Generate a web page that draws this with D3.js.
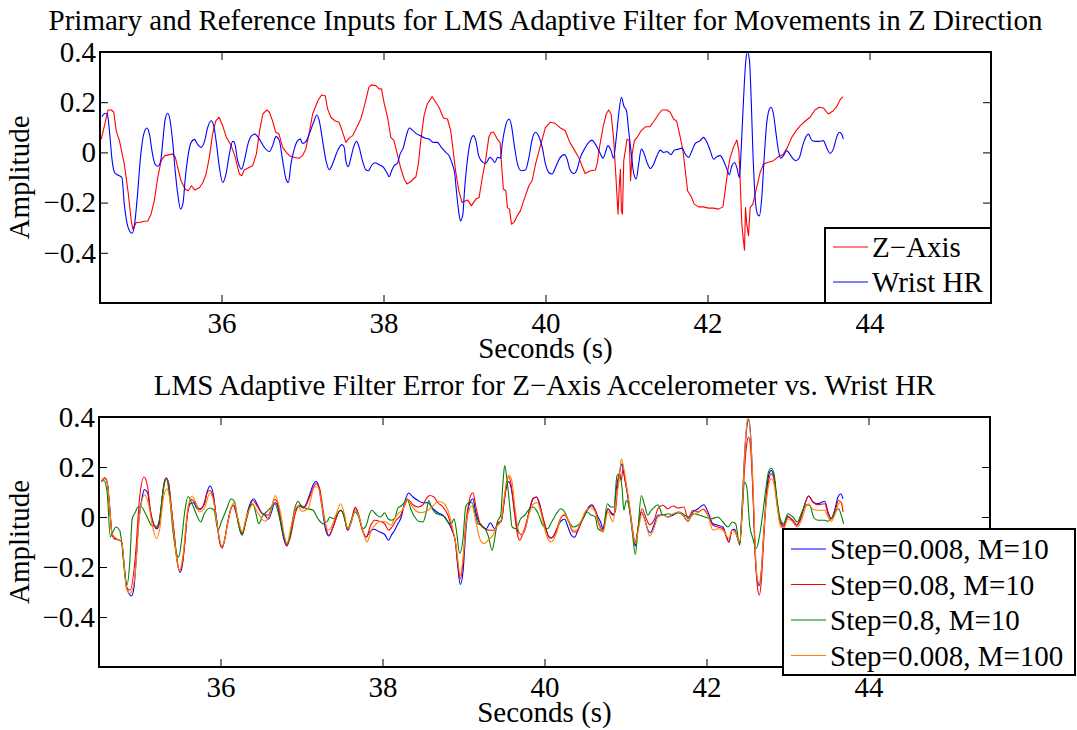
<!DOCTYPE html>
<html>
<head>
<meta charset="utf-8">
<script src="https://cdn.jsdelivr.net/npm/d3@7"></script>
<style>
  body { margin: 0; background: #fff; }
  text { font-family: "Liberation Serif", "Times New Roman", serif; fill: #000; }
</style>
</head>
<body>
<div id="chart"></div>
<script>
// ---- data: [seconds, amplitude] ----
var zAxis = [[34.516,0.053],[34.60,0.169],[34.64,0.169],[34.67,0.16],[34.70,0.086],[34.74,0.047],[34.80,-0.047],[34.845,-0.153],[34.886,-0.273],[34.906,-0.306],[34.947,-0.279],[34.99,-0.279],[35.03,-0.275],[35.09,-0.273],[35.13,-0.246],[35.17,-0.193],[35.21,-0.106],[35.255,-0.033],[35.30,-0.013],[35.36,-0.009],[35.40,-0.007],[35.43,-0.02],[35.46,-0.06],[35.50,-0.113],[35.55,-0.146],[35.59,-0.153],[35.63,-0.133],[35.67,-0.15],[35.73,-0.14],[35.77,-0.12],[35.81,-0.086],[35.85,-0.02],[35.89,0.073],[35.93,0.126],[35.97,0.14],[36.015,0.106],[36.06,0.06],[36.12,0.027],[36.17,-0.02],[36.22,-0.086],[36.25,-0.093],[36.28,-0.07],[36.34,-0.06],[36.385,-0.053],[36.43,-0.007],[36.47,0.086],[36.51,0.153],[36.56,0.169],[36.59,0.16],[36.63,0.126],[36.67,0.08],[36.71,0.073],[36.755,0.02],[36.80,0],[36.84,-0.013],[36.90,-0.02],[36.96,-0.023],[37.00,-0.013],[37.04,0.013],[37.08,0.073],[37.125,0.153],[37.19,0.206],[37.235,0.229],[37.28,0.226],[37.31,0.173],[37.35,0.14],[37.40,0.126],[37.45,0.12],[37.49,0.086],[37.535,0.04],[37.575,0.057],
  [37.62,0.067],[37.66,0.093],[37.72,0.133],[37.76,0.18],[37.82,0.26],[37.85,0.269],[37.905,0.266],[37.946,0.253],[37.975,0.253],[38.01,0.193],[38.05,0.14],[38.09,0.06],[38.13,0.047],[38.165,0],[38.21,-0.06],[38.255,-0.106],[38.29,-0.126],[38.336,-0.116],[38.40,-0.097],[38.43,-0.047],[38.46,0.047],[38.50,0.146],[38.54,0.193],[38.60,0.222],[38.645,0.2],[38.685,0.18],[38.74,0.137],[38.79,0.133],[38.83,0.086],[38.86,0.007],[38.89,-0.073],[38.93,-0.153],[38.97,-0.2],[39.015,-0.193],[39.04,-0.19],[39.085,-0.213],[39.14,-0.186],[39.18,-0.18],[39.22,-0.1],[39.26,-0.033],[39.30,0.06],[39.33,0.08],[39.36,0.08],[39.405,0.053],[39.44,0.04],[39.46,-0.06],[39.48,-0.146],[39.51,-0.153],[39.53,-0.22],[39.556,-0.226],[39.58,-0.286],[39.61,-0.279],[39.65,-0.253],[39.69,-0.233],[39.73,-0.193],[39.795,-0.133],[39.835,-0.113],[39.877,-0.047],[39.92,0.007],[39.96,0.053],[40.00,0.1],[40.06,0.12],[40.12,0.116],[40.185,0.097],[40.245,0.086],[40.30,0.04],[40.35,0.013],[40.41,-0.02],[40.45,-0.053],[40.49,-0.084],[40.555,-0.073],[40.616,-0.07],
  [40.637,-0.047],[40.67,0.027],[40.71,0.1],[40.75,0.153],[40.78,0.169],[40.81,0.153],[40.84,0.06],[40.87,-0.1],[40.895,-0.246],[40.912,-0.126],[40.925,-0.067],[40.937,-0.233],[40.95,-0.246],[40.966,-0.033],[41.007,0.053],[41.035,0.047],[41.05,-0.113],[41.07,-0.007],[41.097,0.047],[41.138,0.063],[41.18,0.086],[41.233,0.102],[41.286,0.102],[41.344,0.126],[41.397,0.153],[41.438,0.169],[41.50,0.169],[41.54,0.16],[41.582,0.133],[41.62,0.124],[41.664,0.06],[41.697,0.007],[41.726,-0.073],[41.754,-0.153],[41.795,-0.173],[41.836,-0.206],[41.89,-0.217],[41.95,-0.217],[42.013,-0.222],[42.075,-0.222],[42.136,-0.226],[42.19,-0.217],[42.218,-0.153],[42.247,-0.08],[42.28,-0.02],[42.32,0.02],[42.362,0.049],[42.387,0.007],[42.40,-0.086],[42.424,-0.286],[42.444,-0.353],[42.457,-0.39],[42.469,-0.22],[42.485,-0.286],[42.506,-0.333],[42.527,-0.22],[42.56,-0.206],[42.588,-0.166],[42.617,-0.126],[42.65,-0.08],[42.69,-0.047],[42.74,-0.04],[42.814,-0.033],[42.876,-0.017],[42.937,-0.007],[42.987,0.02],[43.04,0.06],[43.093,0.086],[43.143,0.106],[43.204,0.124],[43.266,0.14],[43.327,0.169],[43.38,0.18],[43.43,0.177],[43.492,0.153],[43.553,0.166],[43.594,0.182],[43.636,0.209],[43.67,0.222]];

var wristHR = [[34.524,0.142],[34.565,0.156],[34.59,0.153],[34.62,0.073],[34.65,-0.033],[34.68,-0.08],[34.72,-0.09],[34.77,-0.1],[34.80,-0.206],[34.836,-0.286],[34.865,-0.313],[34.898,-0.322],[34.927,-0.286],[34.96,-0.18],[35.00,-0.02],[35.04,0.073],[35.08,0.097],[35.11,0.073],[35.145,0],[35.18,-0.047],[35.215,-0.055],[35.25,-0.033],[35.276,0.047],[35.305,0.133],[35.337,0.156],[35.366,0.126],[35.40,0.033],[35.428,-0.073],[35.46,-0.166],[35.494,-0.226],[35.526,-0.2],[35.55,-0.113],[35.584,-0.02],[35.625,0.04],[35.666,0.052],[35.707,0.031],[35.748,0.02],[35.79,0.044],[35.83,0.1],[35.871,0.126],[35.904,0.106],[35.933,0.047],[35.974,-0.06],[36.015,-0.12],[36.056,-0.086],[36.097,-0.007],[36.138,0.044],[36.159,0.04],[36.20,-0.033],[36.25,-0.067],[36.282,-0.033],[36.332,0.04],[36.373,0.067],[36.414,0.073],[36.467,0.053],[36.529,0.02],[36.59,0.003],[36.631,0.027],[36.672,0.063],[36.714,0.047],[36.755,-0.033],[36.796,-0.106],[36.825,-0.12],[36.857,-0.047],[36.898,0.013],[36.94,0.047],[36.972,0.053],[37.00,0.036],[37.042,0.043],[37.083,0.073],[37.137,0.12],[37.178,0.149],[37.207,0.126],[37.248,0.047],[37.29,-0.033],[37.33,-0.069],[37.37,-0.047],[37.424,0],[37.486,0.031],[37.515,0.02],[37.535,-0.033],[37.564,-0.057],
  [37.589,-0.033],[37.63,0.02],[37.667,0.044],[37.70,0.02],[37.74,-0.033],[37.782,-0.069],[37.815,-0.073],[37.85,-0.053],[37.893,-0.041],[37.946,-0.049],[38.0,-0.06],[38.04,-0.08],[38.07,-0.097],[38.10,-0.073],[38.13,-0.053],[38.17,-0.044],[38.205,-0.007],[38.246,0.02],[38.287,0.073],[38.32,0.097],[38.357,0.089],[38.40,0.076],[38.45,0.067],[38.51,0.057],[38.56,0.053],[38.616,0.04],[38.665,0.04],[38.714,0.02],[38.77,0],[38.81,-0.013],[38.85,-0.047],[38.88,-0.086],[38.90,-0.153],[38.93,-0.24],[38.95,-0.273],[38.98,-0.246],[39.0,-0.153],[39.035,-0.033],[39.07,0.04],[39.11,0.067],[39.14,0.047],[39.175,-0.013],[39.207,-0.033],[39.26,-0.044],[39.314,-0.02],[39.343,-0.027],[39.375,-0.04],[39.41,-0.02],[39.445,-0.023],[39.466,0.033],[39.507,0.106],[39.55,0.133],[39.58,0.106],[39.618,0.02],[39.66,-0.053],[39.70,-0.073],[39.753,-0.07],[39.795,-0.02],[39.836,0.053],[39.877,0.08],[39.918,0.063],[39.96,0.02],[40.0,-0.047],[40.04,-0.08],[40.082,-0.086],[40.123,-0.06],[40.177,-0.023],[40.234,-0.009],[40.267,-0.027],[40.30,-0.067],[40.35,-0.084],[40.39,-0.067],[40.43,-0.02],[40.48,0.013],[40.534,0.04],[40.575,0.049],[40.616,0.033],
  [40.67,0],[40.71,-0.023],[40.74,0],[40.77,0.027],[40.81,0.007],[40.84,-0.023],[40.87,0.047],[40.904,0.153],[40.937,0.22],[40.966,0.186],[41.0,0.166],[41.027,0.086],[41.06,-0.007],[41.09,-0.086],[41.12,-0.106],[41.15,-0.047],[41.183,0.013],[41.212,0],[41.253,-0.04],[41.294,-0.064],[41.335,-0.047],[41.376,-0.013],[41.417,0.009],[41.458,0],[41.50,0.003],[41.55,-0.009],[41.59,0.009],[41.64,0.013],[41.684,0.017],[41.726,-0.007],[41.767,-0.02],[41.808,0.007],[41.85,0.036],[41.91,0.047],[41.95,0.06],[41.993,0.04],[42.034,0.007],[42.075,-0.027],[42.116,-0.017],[42.157,-0.013],[42.198,-0.033],[42.24,-0.067],[42.27,-0.089],[42.30,-0.053],[42.333,-0.04],[42.362,-0.06],[42.395,-0.1],[42.415,0.007],[42.444,0.206],[42.473,0.366],[42.494,0.40],[42.518,0.366],[42.54,0.206],[42.56,0.007],[42.588,-0.18],[42.617,-0.246],[42.64,-0.253],[42.67,-0.18],[42.70,-0.02],[42.73,0.113],[42.765,0.173],[42.785,0.18],[42.814,0.153],[42.847,0.073],[42.876,0.007],[42.904,-0.023],[42.937,-0.013],[42.978,0.007],[43.02,-0.009],[43.06,-0.027],[43.093,-0.033],[43.135,-0.02],[43.175,0.027],[43.217,0.063],[43.245,0.073],[43.286,0.049],[43.327,0.044],[43.38,0.044],[43.43,0.047],[43.47,0.02],[43.512,-0.004],[43.553,0.013],[43.594,0.06],[43.627,0.08],[43.656,0.073],[43.677,0.053]];

// LMS error, step 0.008, M=10
var errStep0008 = [[34.53,0.142],[34.57,0.156],[34.60,0.14],[34.63,0.047],[34.66,-0.066],[34.69,-0.086],[34.73,-0.09],[34.78,-0.1],[34.81,-0.193],[34.84,-0.279],[34.87,-0.306],[34.90,-0.316],[34.93,-0.286],[34.96,-0.166],[34.99,-0.02],[35.03,0.073],[35.06,0.11],[35.10,0.097],[35.13,0.033],[35.17,-0.023],[35.21,-0.047],[35.24,-0.033],[35.27,0.047],[35.30,0.129],[35.33,0.156],[35.36,0.133],[35.39,0.047],[35.43,-0.073],[35.46,-0.166],[35.50,-0.222],[35.525,-0.2],[35.56,-0.1],[35.59,0.007],[35.63,0.053],[35.67,0.057],[35.71,0.033],[35.76,0.031],[35.80,0.057],[35.84,0.106],[35.87,0.124],[35.91,0.093],[35.95,-0.007],[35.99,-0.1],[36.02,-0.124],[36.05,-0.093],[36.09,-0.02],[36.13,0.036],[36.16,0.047],[36.20,0.007],[36.24,-0.053],[36.27,-0.07],[36.30,-0.033],[36.34,0.027],[36.38,0.063],[36.41,0.073],[36.455,0.049],[36.50,0.02],[36.55,0.007],[36.59,-0.009],[36.63,0.02],[36.67,0.057],[36.70,0.049],[36.74,-0.02],[36.78,-0.086],[36.82,-0.116],[36.85,-0.086],[36.895,-0.007],[36.94,0.036],[36.98,0.044],[37.02,0.036],[37.06,0.053],[37.10,0.089],[37.14,0.126],[37.18,0.142],[37.21,0.126],[37.25,0.047],[37.295,-0.047],[37.34,-0.076],[37.38,-0.049],[37.43,0],[37.48,0.027],[37.525,0.007],[37.57,-0.053],
  [37.615,-0.02],[37.665,0.036],[37.706,0.007],[37.747,-0.047],[37.80,-0.08],[37.84,-0.06],[37.895,-0.049],[37.965,-0.06],[38.027,-0.07],[38.076,-0.093],[38.109,-0.073],[38.15,-0.053],[38.19,-0.027],[38.232,0],[38.274,0.06],[38.323,0.096],[38.376,0.08],[38.438,0.066],[38.50,0.057],[38.56,0.057],[38.623,0.033],[38.685,0.017],[38.747,0.007],[38.808,-0.02],[38.858,-0.053],[38.90,-0.1],[38.932,-0.206],[38.96,-0.27],[38.994,-0.219],[39.022,-0.086],[39.055,0.027],[39.088,0.063],[39.117,0.073],[39.15,0.02],[39.191,-0.02],[39.24,-0.04],[39.282,-0.047],[39.331,-0.023],[39.385,-0.047],[39.426,-0.023],[39.467,-0.017],[39.50,0.06],[39.533,0.124],[39.558,0.142],[39.59,0.113],[39.632,0.02],[39.673,-0.06],[39.714,-0.07],[39.763,-0.047],[39.817,0.033],[39.858,0.073],[39.90,0.08],[39.94,0.053],[39.98,-0.007],[40.022,-0.053],[40.063,-0.084],[40.105,-0.08],[40.146,-0.053],[40.20,-0.017],[40.249,-0.009],[40.29,-0.04],[40.331,-0.073],[40.372,-0.081],[40.413,-0.053],[40.455,-0.02],[40.504,0.013],[40.545,0.04],[40.586,0.049],[40.627,0.027],
  [40.66,0],[40.693,-0.02],[40.722,-0.047],[40.75,-0.007],[40.783,0.033],[40.825,0.013],[40.857,0.007],[40.886,0.113],[40.919,0.166],[40.956,0.213],[40.98,0.173],[41.01,0.12],[41.04,0.053],[41.07,-0.02],[41.10,-0.086],[41.12,-0.116],[41.154,-0.047],[41.195,0.02],[41.236,-0.007],[41.277,-0.053],[41.31,-0.062],[41.35,-0.033],[41.40,0.007],[41.462,0.009],[41.524,0],[41.586,0.007],[41.648,0.017],[41.71,0.007],[41.77,-0.017],[41.833,0.02],[41.895,0.033],[41.968,0.049],[42.018,0.02],[42.08,-0.027],[42.14,-0.033],[42.203,-0.04],[42.244,-0.076],[42.277,-0.1],[42.314,-0.053],[42.347,-0.049],[42.38,-0.08],[42.41,-0.106],[42.438,0.033],[42.47,0.246],[42.50,0.366],[42.52,0.39],[42.545,0.326],[42.573,0.113],[42.602,-0.153],[42.627,-0.253],[42.652,-0.275],[42.676,-0.219],[42.705,-0.073],[42.738,0.086],[42.767,0.166],[42.80,0.186],[42.833,0.16],[42.87,0.06],[42.91,-0.02],[42.952,-0.033],[43.005,0.004],[43.055,-0.013],[43.109,-0.033],[43.162,-0.007],[43.21,0.047],[43.26,0.084],[43.314,0.06],[43.37,0.053],[43.41,0.057],[43.46,0.063],[43.50,0.02],[43.54,-0.007],[43.582,0.027],[43.623,0.08],[43.656,0.093],[43.685,0.073]];

// step 0.08, M=10
var errStep008 = [[34.53,0.142],[34.57,0.156],[34.60,0.14],[34.63,0.047],[34.66,-0.066],[34.69,-0.086],[34.73,-0.09],[34.78,-0.1],[34.81,-0.193],[34.84,-0.28],[34.883,-0.293],[34.95,-0.153],[35.0,0.073],[35.056,0.16],[35.10,0.12],[35.138,0.02],[35.18,-0.033],[35.22,-0.044],[35.27,0.047],[35.30,0.129],[35.33,0.156],[35.36,0.133],[35.39,0.047],[35.43,-0.073],[35.46,-0.16],[35.49,-0.213],[35.525,-0.193],[35.56,-0.1],[35.59,0.007],[35.64,0.07],[35.68,0.06],[35.74,0.033],[35.80,0.05],[35.84,0.1],[35.87,0.106],[35.91,0.08],[35.95,-0.007],[36.01,-0.12],[36.05,-0.093],[36.09,-0.02],[36.155,0.047],[36.20,0.01],[36.27,-0.066],[36.32,-0.01],[36.40,0.066],[36.46,0.04],[36.52,0.013],[36.59,0.007],[36.67,0.07],[36.71,0.05],[36.75,-0.02],[36.82,-0.113],[36.87,-0.07],[36.92,0.01],[36.98,0.047],[37.04,0.04],[37.10,0.08],[37.18,0.133],[37.225,0.113],[37.266,0.03],[37.336,-0.073],[37.39,-0.04],[37.48,0.027],[37.53,0],[37.566,-0.053],
  [37.615,-0.013],[37.665,0.04],[37.706,0.007],[37.747,-0.047],[37.80,-0.08],[37.854,-0.033],[37.903,-0.013],[37.965,-0.017],[38.027,-0.027],[38.076,-0.053],[38.117,-0.04],[38.17,-0.013],[38.224,0.007],[38.274,0.047],[38.315,0.07],[38.376,0.049],[38.438,0.04],[38.50,0.049],[38.541,0.073],[38.582,0.086],[38.636,0.08],[38.685,0.057],[38.747,0.04],[38.808,0.007],[38.858,-0.047],[38.90,-0.1],[38.932,-0.193],[38.96,-0.246],[38.994,-0.18],[39.022,-0.047],[39.064,0.053],[39.088,0.086],[39.117,0.097],[39.15,0.047],[39.20,-0.023],[39.261,-0.047],[39.323,-0.053],[39.385,-0.053],[39.426,-0.027],[39.467,-0.013],[39.50,0.053],[39.533,0.14],[39.558,0.16],[39.59,0.126],[39.632,0.007],[39.673,-0.08],[39.694,-0.093],[39.747,-0.053],[39.817,0.027],[39.858,0.073],[39.90,0.08],[39.94,0.047],[40.002,-0.027],[40.043,-0.073],[40.085,-0.084],[40.146,-0.053],[40.208,0],[40.249,0.007],[40.30,-0.02],[40.352,-0.06],[40.393,-0.06],[40.455,-0.02],[40.516,0.02],[40.578,0.044],[40.627,0.027],
  [40.66,-0.013],[40.722,-0.053],[40.783,0.033],[40.845,0.013],[40.874,0.02],[40.907,0.14],[40.927,0.173],[40.948,0.146],[40.969,0.193],[40.997,0.14],[41.03,0.086],[41.07,-0.007],[41.12,-0.1],[41.162,-0.033],[41.203,0.033],[41.257,-0.007],[41.298,-0.031],[41.36,-0.007],[41.40,0.033],[41.462,0.047],[41.524,0.033],[41.586,0.044],[41.648,0.036],[41.722,0.04],[41.77,-0.007],[41.833,0.027],[41.895,0.02],[41.956,0.031],[42.018,0.007],[42.08,-0.033],[42.14,-0.04],[42.203,-0.047],[42.277,-0.1],[42.314,-0.053],[42.355,-0.06],[42.41,-0.106],[42.438,0.007],[42.47,0.193],[42.50,0.299],[42.52,0.319],[42.545,0.273],[42.573,0.1],[42.602,-0.153],[42.627,-0.273],[42.652,-0.313],[42.676,-0.259],[42.705,-0.1],[42.738,0.073],[42.767,0.146],[42.80,0.173],[42.833,0.153],[42.87,0.06],[42.91,-0.02],[42.952,-0.04],[43.005,0],[43.067,-0.013],[43.12,-0.031],[43.178,0.013],[43.22,0.057],[43.26,0.084],[43.314,0.06],[43.376,0.049],[43.46,0.053],[43.50,0.013],[43.54,-0.007],[43.59,0.027],[43.63,0.066],[43.664,0.057],[43.685,0.02]];

// step 0.8, M=10
var errStep08 = [[34.53,0.142],[34.56,0.146],[34.60,0.1],[34.64,-0.08],[34.67,-0.06],[34.71,-0.04],[34.755,-0.053],[34.78,-0.1],[34.82,-0.233],[34.846,-0.273],[34.88,-0.18],[34.91,-0.007],[34.95,0.02],[34.98,0.04],[35.023,0.04],[35.064,0.02],[35.105,-0.007],[35.146,-0.033],[35.21,-0.037],[35.25,-0.007],[35.29,0.1],[35.332,0.153],[35.37,0.086],[35.414,-0.06],[35.455,-0.146],[35.484,-0.16],[35.517,-0.1],[35.558,0.02],[35.60,0.082],[35.64,0.06],[35.70,0.013],[35.755,-0.02],[35.80,0.013],[35.867,0.036],[35.92,0.027],[35.97,-0.053],[36.01,-0.02],[36.07,0.027],[36.134,0.073],[36.175,0.06],[36.216,-0.02],[36.266,-0.073],[36.307,-0.02],[36.36,0.04],[36.40,0.053],[36.443,0.007],[36.47,-0.027],[36.525,0.007],[36.566,0.02],[36.628,0.04],[36.67,0.053],[36.743,-0.02],[36.82,-0.106],[36.854,-0.086],[36.916,0.033],[36.957,0.063],[37.006,0.04],[37.08,0.033],[37.142,0.027],[37.204,-0.007],[37.266,-0.027],[37.32,-0.017],[37.348,0],[37.39,-0.007],[37.43,0.007],[37.49,0.027],[37.554,-0.033],
  [37.574,-0.047],[37.615,-0.013],[37.665,0.02],[37.706,0],[37.759,-0.047],[37.80,-0.033],[37.841,0.013],[37.87,0.027],[37.924,0.009],[37.977,0],[38.027,0.017],[38.068,-0.007],[38.109,-0.013],[38.15,-0.007],[38.19,0.036],[38.232,0.044],[38.274,0.06],[38.306,0.073],[38.348,0.033],[38.397,0],[38.446,-0.017],[38.50,-0.02],[38.541,0.02],[38.57,0.066],[38.603,0.04],[38.652,0.017],[38.706,0.009],[38.767,0],[38.808,-0.02],[38.85,-0.027],[38.883,-0.007],[38.912,-0.053],[38.953,-0.146],[38.994,-0.086],[39.027,0.04],[39.064,0.057],[39.105,0.057],[39.138,0.02],[39.179,-0.027],[39.22,-0.033],[39.27,-0.049],[39.31,-0.08],[39.352,-0.133],[39.385,-0.086],[39.418,-0.02],[39.459,0.007],[39.488,0.14],[39.508,0.206],[39.54,0.14],[39.57,0.047],[39.60,-0.04],[39.652,-0.047],[39.705,-0.007],[39.755,0.007],[39.817,0.033],[39.858,0.04],[39.912,0.02],[39.98,-0.033],[40.035,-0.047],[40.093,-0.017],[40.146,0.013],[40.20,0.033],[40.249,0.02],[40.30,-0.017],[40.352,-0.04],[40.413,-0.033],[40.475,-0.007],[40.528,0.02],[40.57,0.009],[40.627,0],
  [40.66,-0.047],[40.722,-0.057],[40.775,0.053],[40.816,0.04],[40.857,0.04],[40.895,0.166],[40.927,0.173],[40.956,0.12],[40.98,0.027],[41.01,0.066],[41.05,0.033],[41.084,-0.06],[41.12,-0.15],[41.154,-0.047],[41.195,0.086],[41.236,0.047],[41.277,0.007],[41.318,0.027],[41.36,0.04],[41.40,0.049],[41.462,0.007],[41.524,0.013],[41.586,0.009],[41.668,0.02],[41.73,0.007],[41.79,0],[41.853,0.013],[41.915,0.007],[41.977,0],[42.06,-0.007],[42.14,0],[42.203,-0.02],[42.265,-0.04],[42.318,-0.02],[42.36,-0.027],[42.41,-0.113],[42.438,0.007],[42.47,0.14],[42.50,0.113],[42.533,-0.033],[42.573,-0.086],[42.615,-0.126],[42.656,-0.073],[42.697,0.02],[42.738,0.126],[42.767,0.182],[42.80,0.195],[42.833,0.173],[42.87,0.073],[42.91,-0.007],[42.952,-0.027],[43.005,0.013],[43.067,0],[43.12,-0.02],[43.178,0.02],[43.23,0.049],[43.273,0.047],[43.327,-0.004],[43.376,-0.013],[43.46,-0.013],[43.50,-0.017],[43.54,-0.007],[43.59,0.02],[43.63,0.033],[43.664,0.007],[43.693,-0.027]];

// step 0.008, M=100
var errStep0008M100 = [[34.53,0.142],[34.57,0.153],[34.60,0.14],[34.63,0.047],[34.66,-0.066],[34.73,-0.09],[34.78,-0.1],[34.84,-0.286],[34.883,-0.306],[34.94,-0.246],[35.0,0.007],[35.064,0.089],[35.105,0.06],[35.167,-0.047],[35.21,-0.086],[35.25,-0.047],[35.30,0.086],[35.34,0.113],[35.37,0.08],[35.43,-0.086],[35.475,-0.2],[35.496,-0.213],[35.537,-0.153],[35.59,0.02],[35.65,0.084],[35.70,0.053],[35.74,0.02],[35.80,0.033],[35.87,0.097],[35.907,0.073],[35.97,-0.053],[36.02,-0.12],[36.07,-0.06],[36.134,0.04],[36.167,0.057],[36.216,-0.007],[36.266,-0.06],[36.32,0],[36.40,0.049],[36.455,0.02],[36.546,-0.017],[36.607,0.007],[36.677,0.086],[36.73,0.033],[36.82,-0.106],[36.875,-0.033],[36.95,0.044],[37.007,0.023],[37.08,0.033],[37.16,0.12],[37.204,0.12],[37.254,0.04],[37.327,-0.053],[37.37,-0.04],[37.43,0.013],[37.484,0.053],[37.533,0.007],[37.57,-0.047],
  [37.615,-0.02],[37.665,0.027],[37.718,-0.007],[37.78,-0.08],[37.81,-0.1],[37.862,-0.053],[37.924,-0.027],[37.986,-0.017],[38.047,-0.02],[38.10,-0.033],[38.15,-0.007],[38.19,0.013],[38.253,0.031],[38.306,0.073],[38.356,0.047],[38.418,0.023],[38.479,0.017],[38.56,0.027],[38.623,0.044],[38.685,0.063],[38.747,0.057],[38.808,0.027],[38.858,-0.033],[38.912,-0.12],[38.96,-0.233],[38.994,-0.166],[39.035,-0.02],[39.076,0.033],[39.105,0.044],[39.138,0.007],[39.179,-0.06],[39.22,-0.1],[39.261,-0.106],[39.302,-0.093],[39.364,-0.073],[39.405,-0.04],[39.459,-0.02],[39.50,0.073],[39.533,0.146],[39.562,0.169],[39.60,0.14],[39.632,0.047],[39.673,-0.047],[39.714,-0.073],[39.763,-0.047],[39.817,0.02],[39.87,0.053],[39.912,0.057],[39.953,0.02],[40.002,-0.047],[40.043,-0.089],[40.085,-0.1],[40.146,-0.066],[40.208,0],[40.249,0.013],[40.30,-0.017],[40.352,-0.053],[40.393,-0.053],[40.455,-0.013],[40.516,0.027],[40.57,0.036],[40.627,0.02],
  [40.66,-0.02],[40.722,-0.062],[40.783,0.02],[40.845,-0.02],[40.886,0.073],[40.919,0.14],[40.948,0.233],[40.98,0.193],[41.01,0.133],[41.05,0.047],[41.084,-0.047],[41.12,-0.106],[41.154,-0.06],[41.203,0.013],[41.257,-0.033],[41.298,-0.076],[41.35,-0.047],[41.40,0],[41.462,0.007],[41.524,0],[41.586,0.013],[41.648,0.02],[41.71,0.007],[41.77,-0.017],[41.833,0.013],[41.895,0.017],[41.968,0.033],[42.018,0.007],[42.08,-0.053],[42.14,-0.047],[42.203,-0.053],[42.277,-0.086],[42.314,-0.053],[42.355,-0.06],[42.41,-0.1],[42.438,0.007],[42.47,0.246],[42.50,0.379],[42.512,0.399],[42.537,0.352],[42.573,0.14],[42.602,-0.126],[42.627,-0.246],[42.652,-0.266],[42.676,-0.219],[42.705,-0.073],[42.738,0.06],[42.767,0.126],[42.80,0.153],[42.833,0.133],[42.87,0.047],[42.91,-0.033],[42.952,-0.047],[43.005,-0.007],[43.067,-0.02],[43.12,-0.04],[43.178,-0.009],[43.22,0.036],[43.26,0.053],[43.314,0.031],[43.376,0.027],[43.46,0.027],[43.50,0],[43.54,-0.017],[43.59,0.013],[43.63,0.053],[43.664,0.06],[43.685,0.04]];

var xTicks = [36, 38, 40, 42, 44];
var yTicks = [-0.4, -0.2, 0, 0.2, 0.4];
var xDomain = [34.5, 45.5];
var yDomain = [-0.6, 0.4];

var W = 1077, H = 730;
var FONT = 29;

var svg = d3.select("#chart")
  .append("svg")
    .attr("width", W)
    .attr("height", H);

function drawPanel(p, idx) {
  var x = d3.scaleLinear().domain(xDomain).range([p.left, p.right]);
  var y = d3.scaleLinear().domain(yDomain).range([p.bottom, p.top]);
  var g = svg.append("g");

  // clip lines to the axes box
  g.append("clipPath")
      .attr("id", "clip" + idx)
    .append("rect")
      .attr("x", p.left).attr("y", p.top)
      .attr("width", p.right - p.left).attr("height", p.bottom - p.top);

  var line = d3.line()
    .x(function(d) { return x(d[0]); })
    .y(function(d) { return y(d[1]); });

  p.series.forEach(function(s) {
    g.append("path")
      .datum(s.data)
      .attr("clip-path", "url(#clip" + idx + ")")
      .attr("fill", "none")
      .attr("stroke", s.color)
      .attr("stroke-width", 1.1)
      .attr("stroke-linejoin", "round")
      .attr("d", line.curve(s.smooth ? d3.curveMonotoneX : d3.curveLinear));
  });

  // inward ticks on all four sides (matlab style)
  var fmt = d3.format("~g");
  g.append("g")
    .attr("transform", "translate(0," + p.bottom + ")")
    .call(d3.axisBottom(x).tickValues(xTicks).tickSizeInner(-8).tickSizeOuter(0).tickPadding(9));
  g.append("g")
    .attr("transform", "translate(0," + p.top + ")")
    .call(d3.axisTop(x).tickValues(xTicks).tickSizeInner(-8).tickSizeOuter(0).tickFormat(""));
  g.append("g")
    .attr("transform", "translate(" + p.left + ",0)")
    .call(d3.axisLeft(y).tickValues(yTicks).tickFormat(fmt).tickSizeInner(-8).tickSizeOuter(0).tickPadding(4));
  g.append("g")
    .attr("transform", "translate(" + p.right + ",0)")
    .call(d3.axisRight(y).tickValues(yTicks).tickSizeInner(-8).tickSizeOuter(0).tickFormat(""));

  g.selectAll(".domain").remove();
  g.selectAll(".tick line").attr("stroke", "#000").attr("stroke-width", 1);
  g.selectAll(".tick text")
    .attr("font-size", FONT)
    .attr("fill", "#000");

  // axes box
  g.append("rect")
    .attr("x", p.left).attr("y", p.top)
    .attr("width", p.right - p.left).attr("height", p.bottom - p.top)
    .attr("fill", "none")
    .attr("stroke", "#000")
    .attr("stroke-width", 2);

  // title and labels
  g.append("text")
    .attr("x", (p.left + p.right) / 2)
    .attr("y", p.top - 22)
    .attr("text-anchor", "middle")
    .attr("font-size", FONT)
    .text(p.title);
  g.append("text")
    .attr("x", (p.left + p.right) / 2)
    .attr("y", p.bottom + 55)
    .attr("text-anchor", "middle")
    .attr("font-size", FONT)
    .text("Seconds (s)");
  g.append("text")
    .attr("transform", "translate(29," + (p.top + p.bottom) / 2 + ") rotate(-90)")
    .attr("text-anchor", "middle")
    .attr("font-size", FONT)
    .text("Amplitude");

  // legend
  var L = p.legend;
  var lg = g.append("g");
  lg.append("rect")
    .attr("x", L.x).attr("y", L.y)
    .attr("width", L.w).attr("height", L.h)
    .attr("fill", "#fff")
    .attr("stroke", "#000")
    .attr("stroke-width", 2);
  p.series.forEach(function(s, i) {
    var ly = L.firstY + i * L.step;
    lg.append("line")
      .attr("x1", L.x + 8).attr("x2", L.x + 43)
      .attr("y1", ly).attr("y2", ly)
      .attr("stroke", s.color)
      .attr("stroke-width", 1.1);
    lg.append("text")
      .attr("x", L.x + 47)
      .attr("y", ly + 10)
      .attr("font-size", FONT)
      .text(s.name);
  });
}

drawPanel({
  left: 100, right: 991, top: 52, bottom: 303,
  title: "Primary and Reference Inputs for LMS Adaptive Filter for Movements in Z Direction",
  series: [
    {name: "Z\u2212Axis", color: "#ff0000", data: zAxis, smooth: false},
    {name: "Wrist HR", color: "#0000ff", data: wristHR, smooth: true}
  ],
  legend: {x: 825, y: 228, w: 166, h: 75, firstY: 247, step: 35}
}, 0);

drawPanel({
  left: 99, right: 990, top: 417, bottom: 667,
  title: "LMS Adaptive Filter Error for Z\u2212Axis Accelerometer vs. Wrist HR",
  series: [
    {name: "Step=0.008, M=10", color: "#0000ff", data: errStep0008, smooth: true},
    {name: "Step=0.08, M=10", color: "#ff0000", data: errStep008, smooth: true},
    {name: "Step=0.8, M=10", color: "#008000", data: errStep08, smooth: true},
    {name: "Step=0.008, M=100", color: "#ff8000", data: errStep0008M100, smooth: true}
  ],
  legend: {x: 783, y: 529, w: 292, h: 146, firstY: 549, step: 35.5}
}, 1);
</script>
</body>
</html>
